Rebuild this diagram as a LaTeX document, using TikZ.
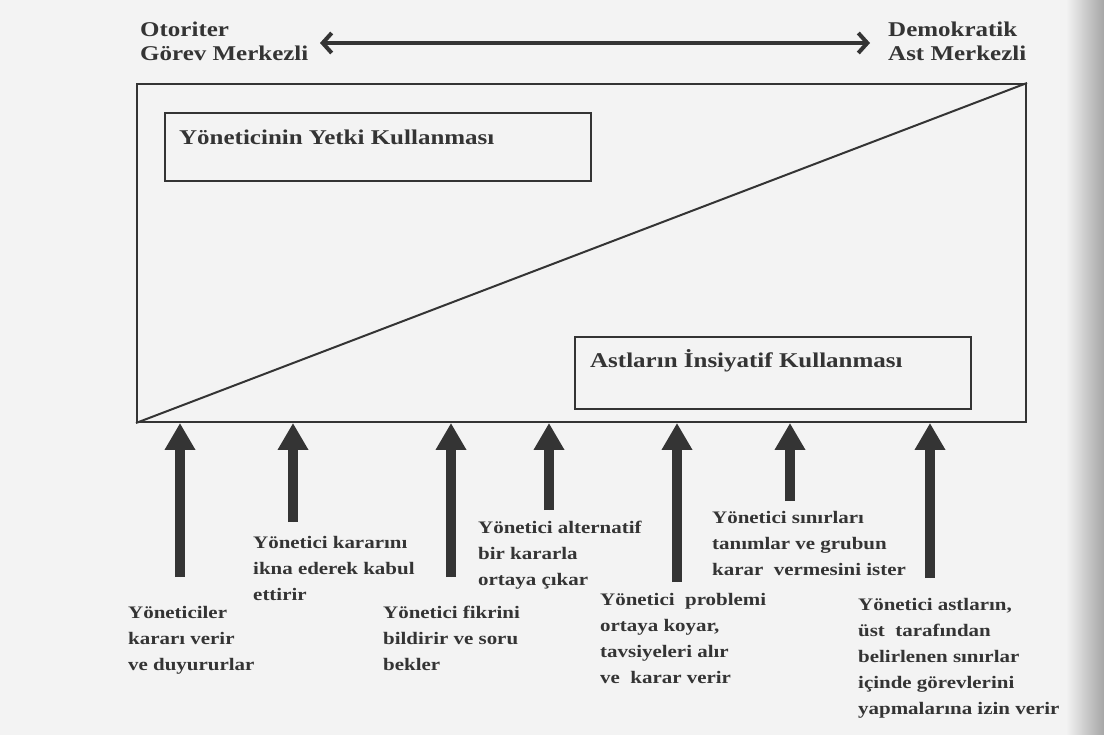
\documentclass[tikz,border=0pt]{standalone}
\usepackage{fontspec}
\setmainfont{Liberation Serif}[FakeStretch=1.19]
\usetikzlibrary{arrows.meta}
\definecolor{ink}{RGB}{52,52,52}
\definecolor{paper}{RGB}{243,243,243}
\tikzset{
  frame/.style={draw=ink, line width=2pt},
  boxtitle/.style={inner sep=0pt, anchor=west, text=ink, font=\bfseries\fontsize{21}{24}\selectfont},
  heading/.style={inner sep=0pt, anchor=north west, align=left, text=ink, font=\bfseries\fontsize{21}{24}\selectfont},
  label/.style={inner sep=0pt, anchor=north west, align=left, text=ink, font=\bfseries\fontsize{17.6}{26}\selectfont},
  bigarrow/.style={draw=ink, fill=ink, line width=10pt, -{Triangle[width=29pt,length=27pt]}},
  toparrow/.style={draw=ink, line width=3.5pt, {Straight Barb[length=9pt,width=20pt,line width=4pt]}-{Straight Barb[length=9pt,width=20pt,line width=4pt]}}
}
\begin{document}
\begin{tikzpicture}[x=1pt,y=-1pt]
\fill[paper] (0,0) rectangle (1104,735);
\shade[left color=paper, right color=black!35] (1066,0) rectangle (1104,735);
\useasboundingbox (0,0) rectangle (1104,735);

% headings and top arrow
\node[heading] (auth) at (140,22) {Otoriter\\Görev Merkezli};
\node[heading] (demo) at (888,22) {Demokratik\\Ast Merkezli};
\coordinate (tl) at (320,43);
\coordinate (tr) at (870,43);
\draw[toparrow] (tl) -- (tr);

% outer frame and diagonal
\node[frame, minimum width=889pt, minimum height=338pt, inner sep=0pt] (outer) at (581.5,253) {};
\draw[draw=ink, line width=2pt] (outer.south west) -- (outer.north east);

% inner boxes
\node[frame, minimum width=426pt, minimum height=68pt, inner sep=0pt] (box1) at (378,147) {};
\node[boxtitle] (t1) at (179,137) {Yöneticinin Yetki Kullanması};
\node[frame, minimum width=396pt, minimum height=72pt, inner sep=0pt] (box2) at (773,373) {};
\node[boxtitle] (t2) at (590,361) {Astların İnsiyatif Kullanması};

% arrows
\coordinate (a1) at (180,577);
\coordinate (a2) at (293,522);
\coordinate (a3) at (451,577);
\coordinate (a4) at (549,510);
\coordinate (a5) at (677,582);
\coordinate (a6) at (790,501);
\coordinate (a7) at (930,578);
\foreach \a in {a1,a2,a3,a4,a5,a6,a7}
  \draw[bigarrow] (\a) -- (\a |- outer.south);

% labels
\node[label] (l1) at (128,606) {Yöneticiler\\kararı verir\\ve duyururlar};
\node[label] (l2) at (253,536) {Yönetici kararını\\ikna ederek kabul\\ettirir};
\node[label] (l3) at (383,606) {Yönetici fikrini\\bildirir ve soru\\bekler};
\node[label] (l4) at (478,521) {Yönetici alternatif\\bir kararla\\ortaya çıkar};
\node[label] (l5) at (600,593) {Yönetici\ \ problemi\\ortaya koyar,\\tavsiyeleri alır\\ve\ \ karar verir};
\node[label] (l6) at (712,511) {Yönetici sınırları\\tanımlar ve grubun\\karar\ \ vermesini ister};
\node[label] (l7) at (858,598) {Yönetici astların,\\üst\ \ tarafından\\belirlenen sınırlar\\içinde görevlerini\\yapmalarına izin verir};
\end{tikzpicture}
\end{document}
